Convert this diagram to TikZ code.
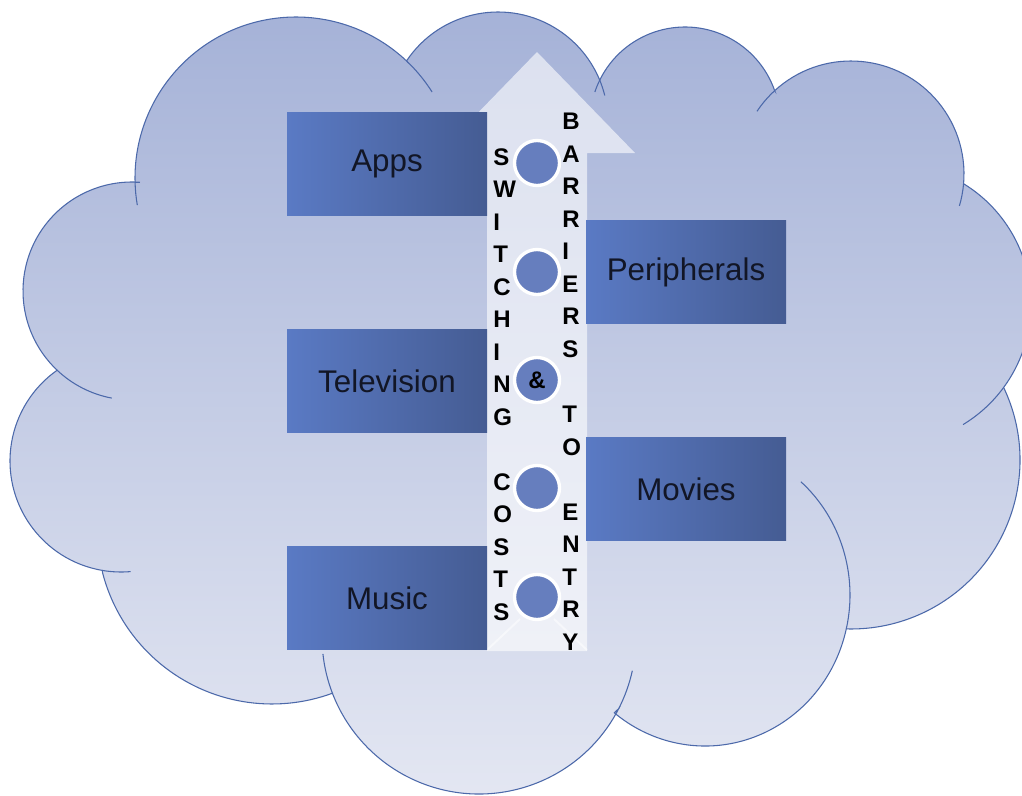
\documentclass[tikz,border=0pt]{standalone}
\usepackage{fontspec}
\setmainfont{Liberation Sans}
\usetikzlibrary{calc}
\definecolor{cloudtop}{RGB}{164,177,215}
\definecolor{cloudbot}{RGB}{229,232,243}
\definecolor{cloudedge}{RGB}{76,105,170}
\definecolor{boxL}{RGB}{90,122,196}
\definecolor{boxR}{RGB}{69,92,147}
\definecolor{dotfill}{RGB}{102,126,190}
\definecolor{boxtext}{RGB}{18,22,38}
\tikzset{
  cloudline/.style={draw=cloudedge, line width=0.8pt},
  box/.style={rectangle, minimum width=150pt, minimum height=77pt, inner sep=0pt,
    left color=boxL, right color=boxR, text=boxtext,
    font=\fontsize{23.5}{27}\selectfont},
  dot/.style={circle, minimum size=33.75pt, inner sep=0pt, fill=dotfill,
    draw=white, line width=2.5pt},
  letters/.style={align=left, inner sep=0pt, anchor=north west,
    font=\fontsize{18}{24.4}\selectfont\bfseries}
}
\begin{document}
\begin{tikzpicture}[x=0.75pt, y=-0.75pt]
\clip (0,0) rectangle (1022,796);
\fill[white] (0,0) rectangle (1022,796);
% cloud body
\shade[top color=cloudtop, bottom color=cloudbot, cloudline]
 ($(132,291)+(133.5:109)$) arc[start angle=133.5,end angle=274.2,radius=109]
 -- ($(296,178)+(178.5:161)$) arc[start angle=178.5,end angle=313.5,radius=161]
 -- ($(498,122)+(213.8:110)$) arc[start angle=213.8,end angle=337.6,radius=110]
 -- ($(685,122)+(206.3:95)$) arc[start angle=206.3,end angle=340.8,radius=95]
 -- ($(851,174)+(227.5:113)$) arc[start angle=227.5,end angle=364.9,radius=113]
 -- ($(890,304)+(301.5:141)$) arc[start angle=301.5,end angle=396.3,radius=141]
 -- ($(851,460)+(334.6:169)$) arc[start angle=334.6,end angle=451.4,radius=169]
 -- ($(705,595)+(12.9:145 and 151)$) arc[start angle=12.9,end angle=128.7,x radius=145,y radius=151]
 -- ($(479,637)+(27.1:157)$) arc[start angle=27.1,end angle=159,radius=157]
 -- ($(272,529)+(69.6:175)$) arc[start angle=69.6,end angle=165.5,radius=175]
 -- ($(121,461)+(99.7:111)$) arc[start angle=99.7,end angle=234.9,radius=111]
 -- cycle;
% inner arcs of the cloud
\draw[cloudline] ($(132,291)+(100.7:109)$) arc[start angle=100.7,end angle=133.5,radius=109];
\draw[cloudline] ($(296,178)+(170.3:161)$) arc[start angle=170.3,end angle=178.5,radius=161];
\draw[cloudline] ($(296,178)+(313.5:161)$) arc[start angle=313.5,end angle=327.7,radius=161];
\draw[cloudline] ($(498,122)+(337.6:110)$) arc[start angle=337.6,end angle=346,radius=110];
\draw[cloudline] ($(685,122)+(198.4:95)$) arc[start angle=198.4,end angle=206.3,radius=95];
\draw[cloudline] ($(851,174)+(213.7:113)$) arc[start angle=213.7,end angle=227.5,radius=113];
\draw[cloudline] ($(851,174)+(4.9:113)$) arc[start angle=4.9,end angle=16.4,radius=113];
\draw[cloudline] ($(890,304)+(36.3:141)$) arc[start angle=36.3,end angle=58.8,radius=141];
\draw[cloudline] ($(705,595)+(311.4:145 and 151)$) arc[start angle=311.4,end angle=372.9,x radius=145,y radius=151];
\draw[cloudline] ($(479,637)+(12.4:157)$) arc[start angle=12.4,end angle=27.1,radius=157];
\draw[cloudline] ($(479,637)+(159:157)$) arc[start angle=159,end angle=173.8,radius=157];
\draw[cloudline] ($(121,461)+(85:111)$) arc[start angle=85,end angle=99.7,radius=111];
% up arrow
\fill[white, opacity=0.6] (487,651) -- (487,153) -- (439,153) -- (537,52) -- (635,153)
  -- (587,153) -- (587,651) -- cycle;
\draw[white, opacity=0.5, line width=1.5pt] (487,650) -- (520,619);
\draw[white, opacity=0.5, line width=1.5pt] (554,619) -- (587,650);
% boxes
\node[box] (apps) at (387,164) {Apps};
\node[box] (tv) at (387,381) {Television};
\node[box] (music) at (387,598) {Music};
\node[box] (periph) at (686,272) {Peripherals};
\node[box] (movies) at (686,489) {Movies};
% circles
\node[dot] (d1) at (537,163) {};
\node[dot] (d2) at (537,272) {};
\node[dot, font=\fontsize{18}{20}\selectfont\bfseries] (d3) at (537,380) {\&};
\node[dot] (d4) at (537,488) {};
\node[dot] (d5) at (537,597) {};
% vertical words
\node[letters] (switch) at (493,148) {S\\W\\I\\T\\C\\H\\I\\N\\G\\\mbox{}\\C\\O\\S\\T\\S};
\node[letters] (barrier) at (562,113) {B\\A\\R\\R\\I\\E\\R\\S\\\mbox{}\\T\\O\\\mbox{}\\E\\N\\T\\R\\Y};
\end{tikzpicture}
\end{document}
